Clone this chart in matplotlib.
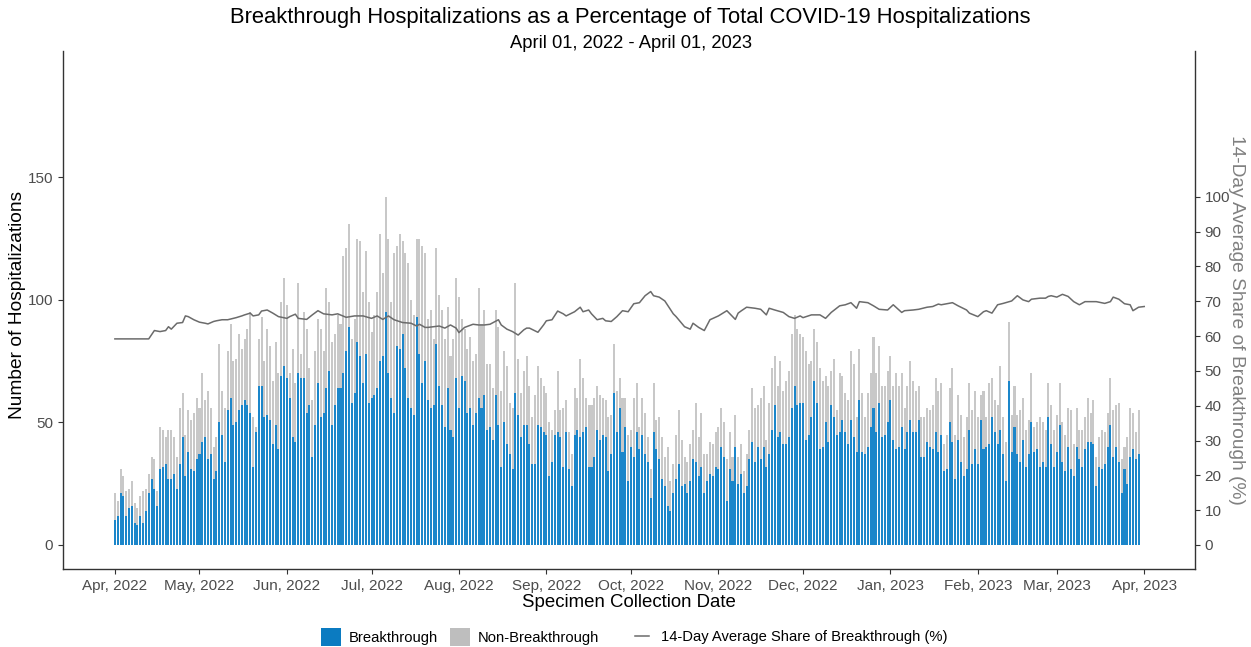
import matplotlib
matplotlib.use('Agg')
import matplotlib.pyplot as plt
import matplotlib.dates as mdates
from matplotlib.patches import Patch
from matplotlib.lines import Line2D
import numpy as np
import pandas as pd

plt.rcParams['font.family'] = ['Liberation Sans', 'DejaVu Sans']

start_date = '2022-04-01'

# Daily breakthrough hospitalizations (blue)
breakthrough = [
    10, 12, 21, 20, 12, 15, 16, 9, 8, 12, 9, 14, 21, 27, 23, 16, 31, 32, 33, 27,
    27, 29, 23, 33, 44, 28, 38, 31, 30, 35, 37, 42, 44, 35, 37,
    27, 30, 50, 45, 34, 55, 60, 49, 50, 55, 57, 59, 57, 54, 32, 46, 65, 65, 52,
    53, 51, 41, 49, 39, 69, 73, 68, 60, 44, 42, 70, 68, 68, 54, 57, 36, 49,
    66, 52, 54, 64, 71, 49, 57, 64, 64, 70, 79, 89, 58, 62, 83, 77, 66, 78,
    58, 60, 61, 64, 75, 77, 95, 70, 60, 54, 81, 80, 86, 72, 60, 56, 53, 93, 78,
    66, 75, 59, 56, 57, 82, 65, 57, 48, 64, 47, 44, 68, 56, 69, 67, 54, 56, 49,
    54, 60, 56, 61, 47, 48, 43, 61, 49, 32, 50, 41, 37, 31, 62, 53, 44, 49, 49,
    41, 33, 33, 49, 48, 46, 45, 28, 34, 45, 46, 44, 32, 46, 31, 24, 45, 47, 44,
    46, 48, 32, 32, 36, 47, 43, 45, 44, 30, 37, 62, 46, 56, 38, 48, 26, 40,
    36, 46, 39, 45, 37, 34, 19, 46, 39, 35, 27, 24, 16, 14, 21, 27, 33, 24, 25,
    21, 26, 35, 34, 28, 32, 21, 26, 29, 28, 32, 31, 40, 36, 18, 31, 26, 40,
    25, 29, 21, 24, 35, 42, 34, 40, 35, 40, 32, 37, 47, 57, 44, 46, 41, 41, 44,
    56, 65, 57, 58, 58, 43, 45, 52, 67, 58, 39, 40, 50, 42, 57, 52, 45, 46,
    51, 46, 41, 51, 44, 38, 59, 38, 37, 40, 48, 56, 46, 58, 44, 45, 50, 59, 43,
    39, 40, 48, 39, 46, 51, 46, 46, 51, 36, 36, 42, 40, 39, 46, 38, 45, 30,
    31, 50, 42, 27, 43, 34, 28, 31, 47, 33, 39, 33, 51, 39, 40, 41, 52, 46, 41,
    47, 37, 26, 67, 38, 48, 37, 34, 43, 32, 37, 50, 38, 39, 32, 34, 32, 52,
    41, 32, 38, 49, 34, 30, 40, 31, 28, 40, 35, 32, 39, 42, 42, 41, 24, 32, 31,
    33, 40, 49, 36, 40, 34, 21, 31, 25, 36, 39, 35, 37,
]

# Daily total hospitalizations (top of grey bar)
total = [
    21, 18, 31, 28, 22, 23, 26, 17, 15, 20, 22, 23, 29, 36, 35, 22, 48, 47, 44, 47,
    47, 44, 36, 56, 62, 45, 55, 51, 54, 60, 56, 70, 59, 63, 56,
    40, 44, 82, 63, 56, 79, 90, 75, 76, 86, 80, 84, 88, 95, 52, 48, 84, 93, 75,
    88, 81, 67, 83, 70, 99, 109, 98, 70, 80, 66, 107, 78, 95, 88, 72, 59, 79,
    92, 88, 79, 105, 99, 83, 86, 94, 90, 118, 121, 131, 84, 92, 125, 124, 103, 120,
    99, 87, 94, 103, 127, 111, 142, 125, 99, 119, 122, 127, 124, 119, 115, 100, 94, 125, 125,
    122, 119, 92, 96, 84, 121, 102, 96, 84, 97, 77, 84, 109, 101, 92, 88, 80, 85, 75,
    78, 105, 90, 96, 74, 74, 64, 96, 89, 63, 79, 73, 58, 56, 107, 76, 62, 71, 77,
    65, 52, 61, 73, 68, 65, 62, 50, 47, 55, 71, 55, 56, 59, 46, 37, 64, 60, 76,
    68, 60, 57, 57, 60, 65, 61, 60, 59, 52, 53, 82, 63, 68, 60, 60, 45, 47,
    60, 66, 48, 60, 54, 44, 31, 66, 51, 52, 44, 36, 40, 26, 33, 45, 55, 43, 36,
    34, 41, 47, 58, 44, 54, 37, 37, 42, 41, 46, 48, 56, 50, 35, 46, 36, 53,
    36, 41, 30, 37, 47, 64, 56, 57, 60, 65, 43, 58, 72, 77, 65, 75, 63, 67, 71,
    86, 94, 88, 86, 85, 79, 74, 75, 88, 83, 72, 67, 69, 65, 71, 76, 55, 70,
    69, 62, 59, 79, 74, 52, 80, 62, 52, 62, 70, 85, 70, 81, 65, 65, 71, 77, 65,
    70, 65, 70, 56, 65, 75, 67, 63, 65, 52, 52, 56, 55, 57, 68, 63, 66, 41,
    45, 64, 72, 45, 61, 53, 44, 52, 66, 55, 63, 52, 61, 63, 52, 66, 68, 59, 57,
    73, 52, 42, 91, 53, 65, 53, 55, 60, 47, 51, 70, 48, 50, 52, 50, 47, 66,
    57, 47, 53, 66, 50, 45, 56, 55, 41, 56, 47, 47, 52, 60, 54, 59, 36, 44, 47,
    46, 54, 68, 55, 57, 58, 35, 40, 44, 56, 54, 46, 55,
]

# 14-day average share of breakthrough (%), day offset from start and value
line_days = [
    0, 12, 14, 16, 18, 19, 20, 22, 24, 25, 26, 28, 30, 32, 33, 35, 36, 38, 40, 43,
    45, 46, 48, 49, 51, 52, 54, 56, 58, 61, 62, 64, 65, 68, 70, 72, 74, 77, 79, 82,
    85, 88, 91, 93, 95, 97, 99, 102, 105, 107, 108, 110, 111, 113, 115, 117, 119, 121, 122, 124,
    127, 129, 131, 133, 136, 137, 139, 141, 143, 145, 146, 147, 150, 152, 153, 155, 157, 159, 160, 162,
    163, 165, 166, 168, 169, 171, 173, 174, 176, 178, 180, 182, 184, 186, 188, 190, 191, 193, 195, 198,
    199, 202, 204, 205, 207, 209, 211, 214, 217, 220, 221, 222, 224, 227, 229, 231, 232, 234, 237, 239,
    241, 243, 244, 247, 250, 252, 254, 257, 259, 261, 263, 264, 267, 269, 271, 274, 276, 279, 280, 283,
    285, 288, 290, 292, 293, 295, 297, 299, 302, 303, 306, 308, 309, 311, 313, 315, 318, 320, 322, 324,
    325, 328, 330, 331, 332, 334, 336, 338, 340, 342, 344, 346, 348, 351, 353, 354, 356, 358, 360, 361,
    363, 365,
]
line_pct = [
    59.2, 59.2, 61.6, 61.3, 61.6, 62.7, 62.0, 63.7, 63.9, 65.8, 65.6, 64.7, 64.0, 63.7, 63.5, 64.2, 64.4, 64.7, 64.7, 65.3,
    65.8, 66.1, 66.6, 65.8, 66.1, 67.2, 67.5, 66.6, 65.6, 65.1, 65.6, 66.3, 65.1, 64.8, 66.1, 67.3, 66.4, 66.1, 66.4, 65.4,
    65.8, 65.8, 65.1, 65.8, 64.8, 65.8, 64.7, 63.9, 63.7, 62.9, 63.4, 62.5, 62.5, 62.7, 62.9, 62.3, 63.2, 62.3, 61.0, 62.5,
    63.4, 63.2, 63.2, 63.4, 64.7, 63.2, 62.0, 61.3, 60.3, 61.8, 62.3, 62.3, 61.1, 63.2, 64.4, 64.7, 67.2, 66.4, 65.8, 66.6,
    67.0, 68.3, 67.0, 67.5, 66.4, 64.7, 65.1, 64.4, 64.2, 65.6, 67.3, 67.0, 69.3, 69.6, 71.6, 72.8, 71.6, 71.2, 70.1, 66.4,
    65.6, 62.7, 62.0, 63.7, 62.5, 61.6, 64.7, 65.8, 67.3, 64.8, 66.6, 67.2, 68.3, 68.0, 67.7, 66.1, 68.0, 67.5, 66.8, 65.6,
    65.1, 65.8, 65.3, 66.1, 66.1, 65.1, 66.8, 68.7, 69.0, 69.6, 68.0, 69.9, 69.6, 68.7, 67.7, 67.5, 69.0, 66.8, 67.3, 67.5,
    67.7, 68.3, 68.5, 69.2, 69.0, 69.3, 69.6, 68.7, 67.5, 66.6, 65.6, 67.0, 67.3, 66.6, 69.0, 69.4, 70.1, 71.6, 70.4, 69.9,
    70.6, 70.9, 70.9, 71.4, 71.6, 71.2, 72.0, 71.4, 69.9, 69.0, 69.9, 69.9, 69.9, 69.4, 69.9, 71.2, 70.6, 69.3, 69.0, 67.3,
    68.3, 68.5,
]

left_ticks = [0, 50, 100, 150]
right_ticks = list(range(0, 101, 10))
month_ticks = pd.date_range('2022-04-01', '2023-04-01', freq='MS')
month_labels = [d.strftime('%b, %Y') for d in month_ticks]

BLUE = '#0B7BC1'
BAR_BLUE = '#1B86CA'
GRAY = '#C8C8C8'
LINE = '#6B6B6B'
TXT = '#4D4D4D'

bt = np.array(breakthrough)
tot = np.array(total)
non = tot - bt
dates = pd.date_range(start_date, periods=len(bt), freq='D')
t0 = pd.Timestamp(start_date)
line_dates = [t0 + pd.Timedelta(days=d) for d in line_days]

W, H = 1251, 647
fig = plt.figure(figsize=(W / 100, H / 100), dpi=100)
ax = fig.add_axes([63 / W, 1 - 569 / H, (1195 - 63) / W, (569 - 51) / H])

ax.bar(dates, bt, width=0.72, color=BAR_BLUE, linewidth=0, zorder=2)
ax.bar(dates, non, bottom=bt, width=0.72, color=GRAY, linewidth=0, zorder=2)

x0 = mdates.date2num(t0)
ax.set_xlim(x0 - 18.4, x0 + 383.0)
ax.set_ylim(-9.8, 201.5)
ax.set_yticks(left_ticks)
ax.set_xticks(month_ticks)
ax.set_xticklabels(month_labels)

ax2 = ax.twinx()
ax2.plot(line_dates, line_pct, color=LINE, lw=1.1, zorder=3)
ax2.set_ylim(-6.9, 141.9)
ax2.set_yticks(right_ticks)
ax2.set_xlim(x0 - 18.4, x0 + 383.0)

for a in (ax, ax2):
    a.spines['top'].set_visible(False)
    for s in ('left', 'right', 'bottom'):
        a.spines[s].set_color('#333333')
        a.spines[s].set_linewidth(1.0)
    a.tick_params(axis='both', colors='#333333', labelcolor=TXT, labelsize=11,
                  length=3.5, width=0.8)
    a.set_facecolor('none')
ax.spines['right'].set_visible(False)
ax2.spines['left'].set_visible(False)
ax2.spines['bottom'].set_visible(False)

ax.set_ylabel('Number of Hospitalizations', fontsize=13.8, color='black', va='center')
ax.yaxis.set_label_coords((18 - 63) / 1132, (569 - 305) / 518)
ax.set_xlabel('Specimen Collection Date', fontsize=13.4, color='black', labelpad=1)
ax2.set_ylabel('14-Day Average Share of Breakthrough (%)', fontsize=13.8, color='#808080',
               rotation=270, va='center')
ax2.yaxis.set_label_coords((1237 - 63) / 1132, (569 - 320) / 518)

fig.text(0.504, 1 - 18 / H, 'Breakthrough Hospitalizations as a Percentage of Total COVID-19 Hospitalizations',
         ha='center', va='center', fontsize=15.8, color='black')
fig.text(0.504, 1 - 43 / H, 'April 01, 2022 - April 01, 2023',
         ha='center', va='center', fontsize=13.2, color='black')

bar_handles = [Patch(facecolor=BLUE, edgecolor='none'),
               Patch(facecolor='#BEBEBE', edgecolor='none')]
bar_labels = ['Breakthrough', 'Non-Breakthrough']
fig.legend(bar_handles, bar_labels, loc='center', bbox_to_anchor=(460 / W, 1 - 637 / H), ncol=2,
           frameon=False, fontsize=10.6, handlelength=1.4, handleheight=1.4,
           columnspacing=0.8, handletextpad=0.5, borderpad=0.2)
fig.legend([Line2D([0], [0], color=LINE, lw=1.1)], ['14-Day Average Share of Breakthrough (%)'],
           loc='center', bbox_to_anchor=(791 / W, 1 - 637 / H), frameon=False, fontsize=10.6,
           handlelength=1.0, handletextpad=0.8, borderpad=0.2)

fig.savefig('out.png', dpi=100)
